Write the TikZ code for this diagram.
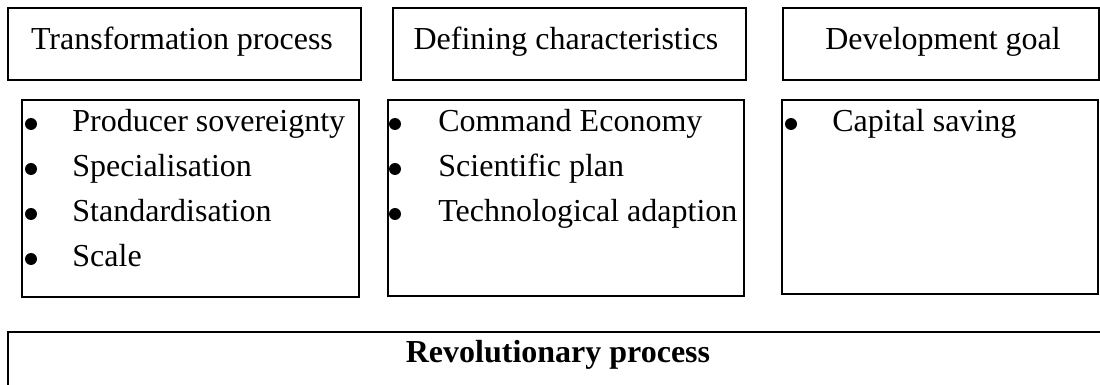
\documentclass[tikz,border=0pt]{standalone}
\usepackage{fontspec}
\setmainfont{Liberation Serif}
\usepackage{tikz}

\tikzset{
  box/.style={line width=1pt},
  head/.style={anchor=base, inner sep=0pt, font=\fontsize{16}{19}\selectfont},
  item/.style={anchor=base west, inner sep=0pt, font=\fontsize{16}{19}\selectfont},
  dot/.style={circle, fill=black, inner sep=0pt, minimum size=6pt}
}

\begin{document}
\begin{tikzpicture}[x=0.5pt,y=-0.5pt]

            \useasboundingbox (0,0) rectangle (1100,385);

            % Riquadri dei titoli
            \draw[box] (8,8) rectangle (361,80);
            \draw[box] (393,8) rectangle (746,80);
            \draw[box] (783,8) rectangle (1099,80);

            \node[head] (tp) at (182,50) {Transformation process};
            \node[head] (dc) at (566,50) {Defining characteristics};
            \node[head] (dg) at (943,50) {Development goal};

            % Riquadri degli elenchi
            \draw[box] (22,100) rectangle (359,297);
            \draw[box] (388,100) rectangle (744,296);
            \draw[box] (782,100) rectangle (1098,294);

            % Elenco 1
            \node[dot] (b11) at (31,124) {};
            \node[dot] (b12) at (31,169) {};
            \node[dot] (b13) at (31,214) {};
            \node[dot] (b14) at (31,259) {};
            \node[item] (i11) at (72,132) {Producer sovereignty};
            \node[item] (i12) at (72,177) {Specialisation};
            \node[item] (i13) at (72,222) {Standardisation};
            \node[item] (i14) at (72,267) {Scale};

            % Elenco 2
            \node[dot] (b21) at (395,124) {};
            \node[dot] (b22) at (395,169) {};
            \node[dot] (b23) at (395,214) {};
            \node[item] (i21) at (438,132) {Command Economy};
            \node[item] (i22) at (438,177) {Scientific plan};
            \node[item] (i23) at (438,222) {Technological adaption};

            % Elenco 3
            \node[dot] (b31) at (791,124) {};
            \node[item] (i31) at (832,132) {Capital saving};

            % Riquadro in basso
            \draw[box] (1101,332) -- (8,332) -- (8,387);
            \node[head, font=\fontsize{16}{19}\selectfont\bfseries] (rp) at (558,363) {Revolutionary process};

        \end{tikzpicture}
\end{document}
